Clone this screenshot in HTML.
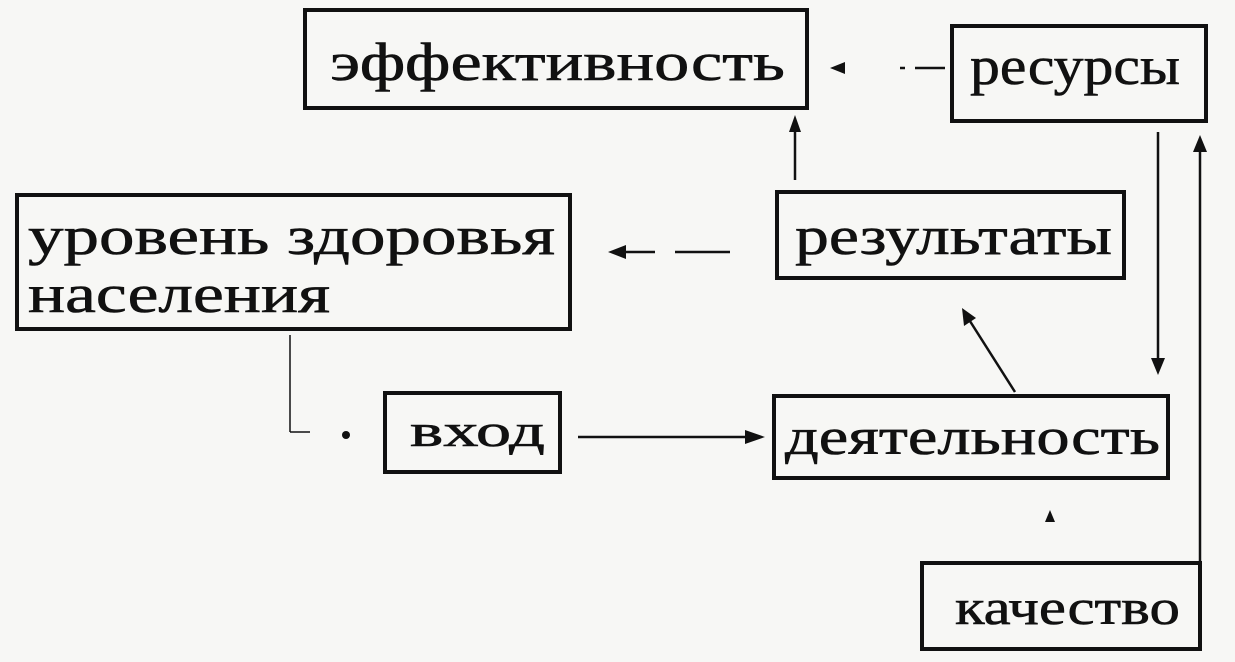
<!DOCTYPE html>
<html><head><meta charset="utf-8"><style>
html,body{margin:0;padding:0;background:#f7f7f5;}
svg{display:block}
text{font-family:"Liberation Serif","DejaVu Serif",serif;fill:#111;stroke:#111;stroke-width:0.6;}
</style></head><body>
<svg width="1235" height="662" viewBox="0 0 1235 662" xmlns="http://www.w3.org/2000/svg">
<g fill="none" stroke="#111" stroke-width="4">
<rect x="305" y="10" width="502" height="98"/>
<rect x="952" y="26" width="254" height="95"/>
<rect x="17" y="195" width="553" height="134"/>
<rect x="777" y="192" width="347" height="86"/>
<rect x="385" y="393" width="175" height="79"/>
<rect x="774" y="396" width="394" height="82"/>
<rect x="922" y="563" width="278" height="86"/>
</g>
<g stroke="#111" stroke-width="2.5" fill="none">
<line x1="945" y1="68" x2="900" y2="68" stroke-dasharray="30,10"/>
<line x1="795" y1="180" x2="795" y2="125"/>
<line x1="730" y1="252" x2="625" y2="252" stroke-dasharray="55,20"/>
<line x1="1015" y1="392" x2="968" y2="318"/>
<line x1="578" y1="437" x2="750" y2="437"/>
<line x1="1158" y1="132" x2="1158" y2="365"/>
<line x1="1200" y1="645" x2="1200" y2="145"/>
<line x1="290" y1="335" x2="290" y2="432" stroke-width="1.5"/>
<line x1="290" y1="432" x2="310" y2="432" stroke-width="1.5"/>
</g>
<g fill="#111">
<polygon points="830,68 845,62 845,74"/>
<polygon points="795,115 789,132 801,132"/>
<polygon points="608,252 626,245 626,259"/>
<polygon points="962,308 964,326 976,318"/>
<polygon points="765,437 745,430 745,444"/>
<polygon points="1158,375 1151,358 1165,358"/>
<polygon points="1200,135 1193,152 1207,152"/>
<polygon points="1050,510 1045,522 1055,522"/>
<circle cx="346" cy="435" r="4"/>
</g>
<text x="330" y="80" font-size="54" textLength="455" lengthAdjust="spacingAndGlyphs">эффективность</text>
<text x="970" y="84" font-size="54" textLength="210" lengthAdjust="spacingAndGlyphs">ресурсы</text>
<text x="28" y="254" font-size="54" textLength="527" lengthAdjust="spacingAndGlyphs">уровень здоровья</text>
<text x="28" y="312" font-size="54" textLength="302" lengthAdjust="spacingAndGlyphs">населения</text>
<text x="795" y="254" font-size="54" textLength="317" lengthAdjust="spacingAndGlyphs">результаты</text>
<text x="410" y="446" font-size="46" textLength="135" lengthAdjust="spacingAndGlyphs">вход</text>
<text x="785" y="454" font-size="52" textLength="375" lengthAdjust="spacingAndGlyphs">деятельность</text>
<text x="955" y="624" font-size="50" textLength="225" lengthAdjust="spacingAndGlyphs">качество</text>
</svg>
</body></html>
